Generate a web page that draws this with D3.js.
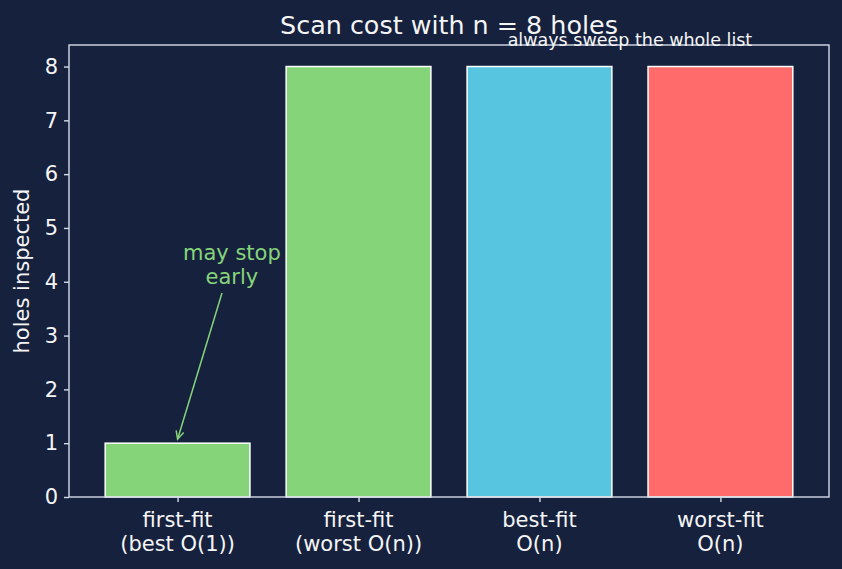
<!DOCTYPE html>
<html>
<head>
<meta charset="utf-8">
<script src="https://cdn.jsdelivr.net/npm/d3@7"></script>
<style>
  html, body { margin: 0; padding: 0; background: #16213e; }
  svg { display: block; }
  text { font-family: "DejaVu Sans", sans-serif; }
</style>
</head>
<body>
<svg id="chart" width="842" height="569"></svg>
<script>
// ---- data ----
const categories = [["first-fit", "(best O(1))"], ["first-fit", "(worst O(n))"], ["best-fit", "O(n)"], ["worst-fit", "O(n)"]];
const values = [1, 8, 8, 8];
const barColors = ["#86d47a", "#86d47a", "#57c4e0", "#ff6b6b"];
const yTicks = [0, 1, 2, 3, 4, 5, 6, 7, 8];
const titleText = "Scan cost with n = 8 holes";
const yLabel = "holes inspected";
const noteTop = "always sweep the whole list";
const noteEarly = ["may stop", "early"];

// ---- layout ----
const W = 842, H = 569;
const m = { left: 69, right: 13, top: 45, bottom: 72 };
const bg = "#16213e", axisCol = "#d3dae6", textCol = "#f5f5f5";
const svg = d3.select("#chart");
svg.append("rect").attr("width", W).attr("height", H).attr("fill", bg);

const x = d3.scaleLinear().domain([-0.6, 3.6]).range([m.left, W - m.right]);
const y = d3.scaleLinear().domain([0, 8.4]).range([H - m.bottom, m.top]);
const bw = 0.8;

const g = svg.append("g");

// bars
g.selectAll("rect.bar").data(values).enter().append("rect")
  .attr("class", "bar")
  .attr("x", (d, i) => x(i - bw / 2))
  .attr("width", x(bw) - x(0))
  .attr("y", d => y(d))
  .attr("height", d => y(0) - y(d))
  .attr("fill", (d, i) => barColors[i])
  .attr("stroke", "#ffffff")
  .attr("stroke-width", 1.5);

// frame
g.append("rect")
  .attr("x", x(-0.6)).attr("y", y(8.4))
  .attr("width", x(3.6) - x(-0.6)).attr("height", y(0) - y(8.4))
  .attr("fill", "none").attr("stroke", axisCol).attr("stroke-width", 1.4);

// y axis
const yAxis = d3.axisLeft(y).tickValues(yTicks).tickSize(5).tickPadding(6).tickFormat(d3.format("d"));
const ya = svg.append("g").attr("transform", `translate(${m.left},0)`).call(yAxis);
ya.select(".domain").remove();
ya.selectAll(".tick line").attr("stroke", axisCol).attr("stroke-width", 1.4);
ya.selectAll(".tick text").attr("fill", textCol).style("font-size", "21px").style("font-family", "DejaVu Sans");

// x axis
const xAxis = d3.axisBottom(x).tickValues(d3.range(categories.length)).tickSize(5).tickFormat("");
const xa = svg.append("g").attr("transform", `translate(0,${H - m.bottom})`).call(xAxis);
xa.select(".domain").remove();
xa.selectAll(".tick line").attr("stroke", axisCol).attr("stroke-width", 1.4);
categories.forEach((lines, i) => {
  const t = svg.append("text").attr("x", x(i)).attr("y", 527)
    .attr("text-anchor", "middle").attr("fill", textCol).style("font-size", "21px");
  lines.forEach((l, j) => t.append("tspan").attr("x", x(i)).attr("dy", j === 0 ? 0 : 24).text(l));
});

// y label
svg.append("text")
  .attr("transform", `translate(29,${(y(0) + y(8.4)) / 2}) rotate(-90)`)
  .attr("text-anchor", "middle").attr("fill", textCol).style("font-size", "21px")
  .text(yLabel);

// title
svg.append("text").attr("x", (x(-0.6) + x(3.6)) / 2).attr("y", 34)
  .attr("text-anchor", "middle").attr("fill", textCol).style("font-size", "25.4px")
  .text(titleText);

// top note
svg.append("text").attr("x", x(2.5)).attr("y", y(8.4) + 1)
  .attr("text-anchor", "middle").attr("fill", textCol).style("font-size", "17.5px")
  .text(noteTop);

// early note with arrow
const green = "#86d47a";
const ne = svg.append("text").attr("x", x(0.3)).attr("y", 260)
  .attr("text-anchor", "middle").attr("fill", green).style("font-size", "21px");
noteEarly.forEach((l, j) => ne.append("tspan").attr("x", x(0.3)).attr("dy", j === 0 ? 0 : 24).text(l));

const x0 = 222, y0 = 293, x1 = x(0), y1 = y(1) - 4;
svg.append("line").attr("x1", x0).attr("y1", y0).attr("x2", x1).attr("y2", y1)
  .attr("stroke", green).attr("stroke-width", 1.5);
const ang = Math.atan2(y1 - y0, x1 - x0);
const hl = 9, ha = 0.45;
const p1 = [x1 - hl * Math.cos(ang - ha), y1 - hl * Math.sin(ang - ha)];
const p2 = [x1 - hl * Math.cos(ang + ha), y1 - hl * Math.sin(ang + ha)];
svg.append("path").attr("d", `M${p1[0]},${p1[1]}L${x1},${y1}L${p2[0]},${p2[1]}`)
  .attr("fill", "none").attr("stroke", green).attr("stroke-width", 1.5);
</script>
</body>
</html>
